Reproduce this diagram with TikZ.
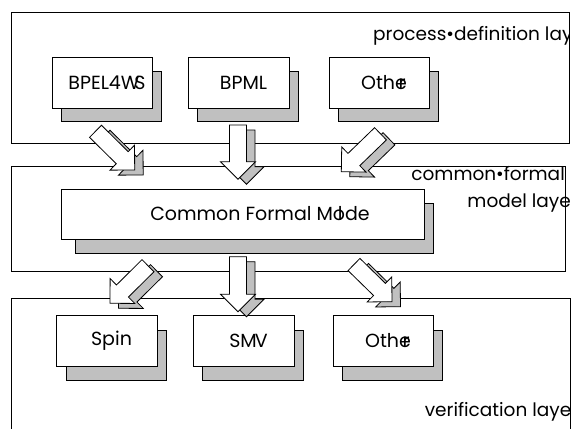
\documentclass[tikz,border=0pt]{standalone}
\usepackage{fontspec}
\setmainfont{Poppins}
\usetikzlibrary{calc}
\definecolor{shadowgray}{HTML}{C0C0C0}
\tikzset{
  x=1pt, y=-1pt,
  outline/.style={draw=black, line width=0.8pt},
  layerframe/.style={outline},
  boxshadow/.style={outline, fill=shadowgray},
  boxface/.style={outline, fill=white, inner sep=0pt, minimum width=100pt, minimum height=51pt,
    font=\fontsize{19}{22}\selectfont},
  layerlabel/.style={inner sep=0pt, anchor=base east, font=\fontsize{18.5}{21}\selectfont},
  pics/arrowshadow/.style={code={
    \filldraw[fill=shadowgray, draw=black, line width=0.8pt]
      (0,-8.5) -- ({#1-17.5},-8.5) -- ({#1-17.5},-17.5) -- (#1,0)
      -- ({#1-17.5},17.5) -- ({#1-17.5},8.5) -- (0,8.5) -- cycle;}},
  pics/arrowbody/.style={code={
    \filldraw[fill=white, draw=black, line width=0.8pt]
      (0,-8.5) -- ({#1-17.5},-8.5) -- ({#1-17.5},-17.5) -- (#1,0)
      -- ({#1-17.5},17.5) -- ({#1-17.5},8.5) -- (0,8.5) -- cycle;}},
}
% block arrow with a grey extruded shadow, from tail #1 to tip #2
\newcommand\blockarrow[2]{%
  \path let \p1=($(#2)-(#1)$), \n1={atan2(\y1,\x1)}, \n2={veclen(\x1,\y1)} in
    ([shift={(8.5,5)}]#1) pic[rotate=\n1]{arrowshadow=\n2}
    (#1) pic[rotate=\n1]{arrowbody=\n2};}
\begin{document}
\begin{tikzpicture}
\useasboundingbox (0,0) rectangle (574,429);

% the three layers
\draw[layerframe] (11,12.3) rectangle (569,143);
\draw[layerframe] (11,166) rectangle (565,271);
\draw[layerframe] (11,429) -- (11,298) -- (570,298) -- (570,429);

% layer captions; the top one runs into the frame and is cut there
\begin{scope}
  \clip (0,0) rectangle (569.5,150);
  \node[layerlabel, anchor=base west] (lbl1) at (373,40) {process•definition lay};
\end{scope}
\node[layerlabel] (lbl2a) at (565,180) {common•formal};
\node[layerlabel] (lbl2b) at (571,207) {model laye};
\node[layerlabel] (lbl3) at (571.5,416.5) {verification laye};

% shadows of the boxes
\draw[boxshadow] (61,71) rectangle (161,121);
\draw[boxshadow] (197,71) rectangle (298,121);
\draw[boxshadow] (338,71) rectangle (438,121);
\draw[boxshadow] (75,203) rectangle (433,253);
\draw[boxshadow] (66,330) rectangle (166,380);
\draw[boxshadow] (202,330) rectangle (303,380);
\draw[boxshadow] (342,330) rectangle (442,380);

% process definition languages
\node[boxface] (bpel) at (102,82.5) {\kern10pt BPEL4W\kern-5pt S};
\node[boxface, minimum width=101pt] (bpml) at (238.5,82.5) {\kern10pt BPML};
\node[boxface] (other1) at (379,82.5) {\kern10pt Oth\rlap{\kern3.5pt r}e};

% common formal model
\node[boxface, minimum width=363pt, minimum height=50pt]
  (cfm) at (242.5,214) {\kern35pt Common Formal M\rlap{\kern5pt l}ode};

% verification tools
\node[boxface, minimum width=101pt] (spin) at (106.5,341) {\kern10pt Spin};
\node[boxface, minimum width=101pt] (smv) at (243.5,341) {\kern10pt SM\kern-2pt V};
\node[boxface] (other2) at (383,341) {\kern10pt Oth\rlap{\kern3.5pt r}e};

% transformation arrows
\coordinate (a1s) at (95.5,131.3);  \coordinate (a1e) at (134.7,170);
\coordinate (a2s) at (238,125);     \coordinate (a2e) at (238,179.3);
\coordinate (a3s) at (380.5,133.8); \coordinate (a3e) at (341.3,171.7);
\coordinate (a4s) at (148,265.7);   \coordinate (a4e) at (110,303.3);
\coordinate (a5s) at (238,256.7);   \coordinate (a5e) at (238,311.7);
\coordinate (a6s) at (354,264.5);   \coordinate (a6e) at (392,301.7);
\blockarrow{a1s}{a1e}
\blockarrow{a2s}{a2e}
\blockarrow{a3s}{a3e}
\blockarrow{a4s}{a4e}
\blockarrow{a5s}{a5e}
\blockarrow{a6s}{a6e}
\end{tikzpicture}
\end{document}
